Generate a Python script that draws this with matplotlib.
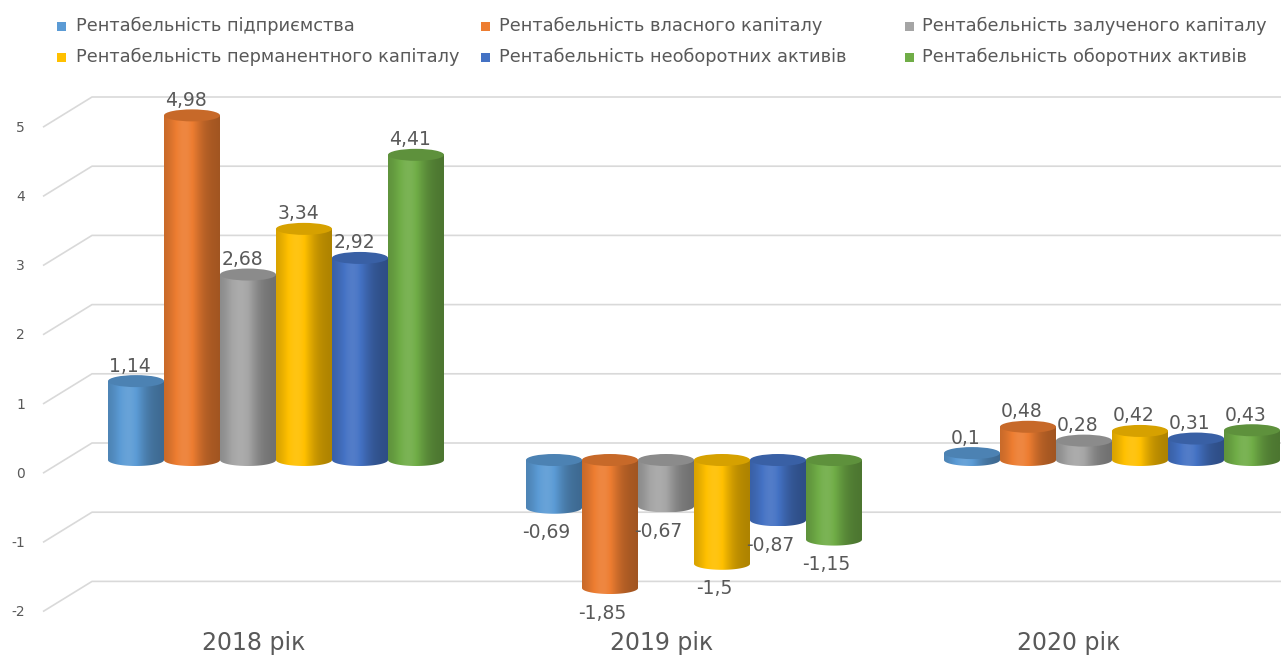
import numpy as np
import matplotlib
matplotlib.use('Agg')
import matplotlib.pyplot as plt
from matplotlib.patches import Polygon, Ellipse, Rectangle
from matplotlib.colors import to_rgb

plt.rcParams['font.family'] = ['DejaVu Sans']

# ---------------- data ----------------
years = ['2018 рік', '2019 рік', '2020 рік']
series_names = [
    'Рентабельність підприємства',
    'Рентабельність власного капіталу',
    'Рентабельність залученого капіталу',
    'Рентабельність перманентного капіталу',
    'Рентабельність необоротних активів',
    'Рентабельність оборотних активів',
]
rent_pidpryiemstva = [1.14, -0.69, 0.10]
rent_vlasnoho = [4.98, -1.85, 0.48]
rent_zaluchenoho = [2.68, -0.67, 0.28]
rent_permanentnoho = [3.34, -1.50, 0.42]
rent_neoborotnykh = [2.92, -0.87, 0.31]
rent_oborotnykh = [4.41, -1.15, 0.43]
series_values = [rent_pidpryiemstva, rent_vlasnoho, rent_zaluchenoho,
                 rent_permanentnoho, rent_neoborotnykh, rent_oborotnykh]
colors = ['#5B9BD5', '#ED7D31', '#A5A5A5', '#FFC000', '#4472C4', '#70AD47']
y_ticks = [-2, -1, 0, 1, 2, 3, 4, 5]

TEXT = '#595959'
GRID = '#D9D9D9'

W, H = 1281, 655
fig = plt.figure(figsize=(W / 100, H / 100), dpi=100)
ax = fig.add_axes([0, 0, 1, 1])
PX_X = 418.0   # px per category unit
PX_Y = 69.2    # px per value unit
X0 = 276.0     # px of first category centre
Y0 = 460.0     # px of value 0 (from top)
ax.set_xlim(-X0 / PX_X, (W - X0) / PX_X)
ax.set_ylim((Y0 - H) / PX_Y, Y0 / PX_Y)
ax.axis('off')

# ------------- gridlines (3D back wall + floor slant) -------------
back = 17 / PX_Y
xl = (43 - X0) / PX_X
xm = (92 - X0) / PX_X
xr = (W - X0) / PX_X
for v in y_ticks:
    ax.plot([xl, xm, xr], [v - 0.19, v + back, v + back], color=GRID, lw=1.2,
            zorder=1, solid_capstyle='butt')
    ax.text((25 - X0) / PX_X, v - 0.2, f'{v}', ha='right', va='center',
            fontsize=10, color=TEXT)

# ------------- cylinders -------------
n = len(series_values)
w = 56 / PX_X
eh = 12 / PX_Y
t = np.linspace(0, 1, 80)
shade = 0.80 + 0.32 * np.exp(-((t - 0.38) / 0.28) ** 2) - 0.12 * t


def shaded(c, f):
    c = np.array(to_rgb(c))
    out = []
    for fi in f:
        if fi < 1:
            out.append(c * fi)
        else:
            out.append(c + (1 - c) * (fi - 1))
    return np.clip(np.array(out), 0, 1)


arc = np.linspace(np.pi, 2 * np.pi, 60)
for g in range(len(years)):
    for i in range(n):
        v = series_values[i][g]
        c = colors[i]
        left = g - 3 * w + i * w
        cx = left + w / 2
        top = max(0, v)
        bot = min(0, v)
        z = 2 + g * 0.1 + i * 0.01
        verts = [(left, top), (left, bot)]
        verts += list(zip(cx + w / 2 * np.cos(arc), bot + eh / 2 * np.sin(arc)))
        verts += [(left + w, top)]
        poly = Polygon(verts, closed=True, facecolor='none', edgecolor='none')
        ax.add_patch(poly)
        img = shaded(c, shade)[np.newaxis, :, :]
        im = ax.imshow(img, extent=[left, left + w, bot - eh / 2, top],
                       aspect='auto', interpolation='bilinear', zorder=z)
        im.set_clip_path(poly)
        topc = np.array(to_rgb(c)) * 0.84
        ax.add_patch(Ellipse((cx, top), w, eh, facecolor=topc,
                             edgecolor='none', zorder=z + 0.005))
        lab = f'{v:g}'.replace('.', ',')
        if v >= 0:
            ax.text(cx - 6 / PX_X, v + 15 / PX_Y, lab, ha='center', va='center',
                    fontsize=13.5, color=TEXT, zorder=10)
        else:
            ax.text(cx - 8 / PX_X, v - 25 / PX_Y, lab, ha='center', va='center',
                    fontsize=13.5, color=TEXT, zorder=10)

# ------------- category labels -------------
for g, name in enumerate(years):
    ax.text(g * 0.975 - 0.053, (Y0 - 643) / PX_Y, name, ha='center', va='center',
            fontsize=17, color=TEXT)

# ------------- legend -------------
col_sq = [57, 481, 905]
col_tx = [76, 499, 922]
row_y = [26, 57]
sq = 9
for k, name in enumerate(series_names):
    r, cidx = divmod(k, 3)
    y = row_y[r]
    fig.patches.append(Rectangle((col_sq[cidx] / W, 1 - (y + sq / 2) / H), sq / W, sq / H,
                                 transform=fig.transFigure, facecolor=colors[k],
                                 edgecolor='none'))
    fig.text(col_tx[cidx] / W, 1 - y / H, name, ha='left', va='center',
             fontsize=12.8, color=TEXT)

fig.savefig('out.png', dpi=100)
